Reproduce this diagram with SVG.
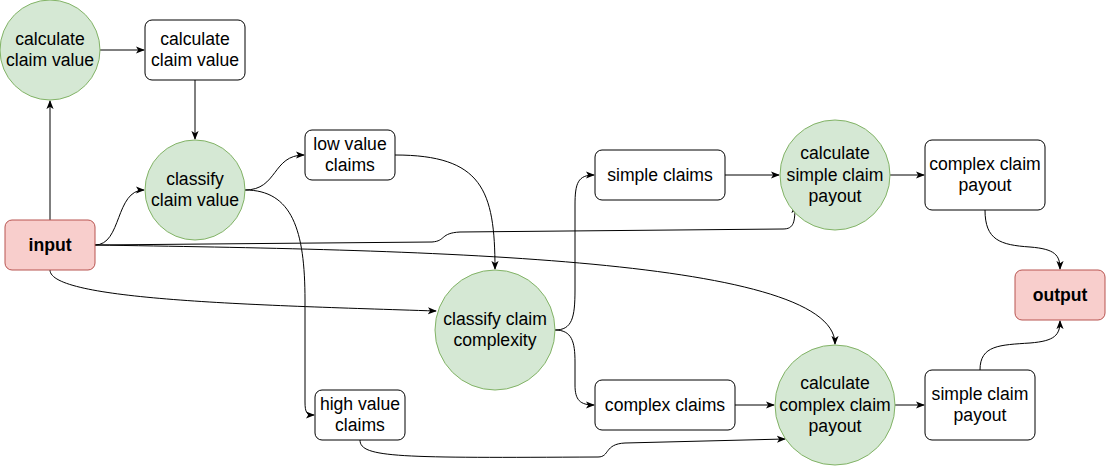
<svg xmlns="http://www.w3.org/2000/svg" width="1106" height="466" viewBox="0 0 1106 466">
<style>
.g{fill:#d5e8d4;stroke:#82b366;stroke-width:1}
.r{fill:#f8cecc;stroke:#b85450;stroke-width:1}
.w{fill:#ffffff;stroke:#000000;stroke-width:1}
text{font-family:"Liberation Sans",Arial,Helvetica,sans-serif;font-size:17.6px;fill:#000;text-anchor:middle}
.b{font-weight:bold}
.e{fill:none;stroke:#000;stroke-width:1;marker-end:url(#a)}
</style>
<defs>
<marker id="a" viewBox="0 0 10 10" refX="9" refY="5" markerWidth="9" markerHeight="9" markerUnits="userSpaceOnUse" orient="auto">
<path d="M0,1 L10,5 L0,9 L2.5,5 z" fill="#000"/>
</marker>
</defs>
<rect width="1106" height="466" fill="#fff"/>
<g id="connectors">
<path class="e" d="M50,220 L50,101"/>
<path class="e" d="M100,50 L144,50"/>
<path class="e" d="M195,80 L195,139"/>
<path class="e" d="M95,245 C122,245 115,190 144,190"/>
<path class="e" d="M245,190 C278,190 272,155 304,155"/>
<path class="e" d="M245,190 C292,190 305,230 305,300 L305,402 C305,413 307,415 314,415"/>
<path class="e" d="M95,245 L432,242 C446,241 440,233 460,232 L783,229 C794,229 795,222 795,205"/>
<path class="e" d="M95,245 C400,250 835,255 835,344"/>
<path class="e" d="M50,270 C50,300 250,305 436,311"/>
<path class="e" d="M395,155 C482,155 495,190 495,269"/>
<path class="e" d="M360,440 C360,458 400,458 598,457 C610,457 604,444 625,443 L785,439"/>
<path class="e" d="M555,330 C572,330 575,318 575,290 L575,205 C575,183 578,175 594,175"/>
<path class="e" d="M555,330 C572,330 575,342 575,362 L575,385 C575,400 580,405 594,405"/>
<path class="e" d="M725,175 L779,175"/>
<path class="e" d="M890,175 L924,175"/>
<path class="e" d="M735,405 L774,405"/>
<path class="e" d="M895,405 L924,405"/>
<path class="e" d="M985,210 C985,240 1000,245 1030,247 C1055,249 1060,255 1060,269"/>
<path class="e" d="M980,370 C980,345 1000,345 1030,343 C1055,341 1060,335 1060,321"/>
</g>
<g id="calc-claim-value-process">
<circle class="g" cx="50" cy="50" r="50"/>
<text x="50" y="44.5">calculate</text><text x="50" y="66">claim value</text>
</g>
<g id="calc-claim-value-data">
<rect class="w" x="145" y="20" width="100" height="60" rx="7"/>
<text x="195" y="44.5">calculate</text><text x="195" y="66">claim value</text>
</g>
<g id="classify-claim-value">
<circle class="g" cx="195" cy="190" r="50"/>
<text x="195" y="184.5">classify</text><text x="195" y="206">claim value</text>
</g>
<g id="input">
<rect class="r" x="5" y="220" width="90" height="50" rx="7"/>
<text class="b" x="50" y="251">input</text>
</g>
<g id="low-value-claims">
<rect class="w" x="305" y="130" width="90" height="50" rx="7"/>
<text x="350" y="149.5">low value</text><text x="350" y="171">claims</text>
</g>
<g id="high-value-claims">
<rect class="w" x="315" y="390" width="90" height="50" rx="7"/>
<text x="360" y="409.5">high value</text><text x="360" y="431">claims</text>
</g>
<g id="classify-claim-complexity">
<circle class="g" cx="495" cy="330" r="60"/>
<text x="495" y="324.5">classify claim</text><text x="495" y="346">complexity</text>
</g>
<g id="simple-claims">
<rect class="w" x="595" y="150" width="130" height="50" rx="7"/>
<text x="660" y="181">simple claims</text>
</g>
<g id="complex-claims">
<rect class="w" x="595" y="380" width="140" height="50" rx="7"/>
<text x="665" y="411">complex claims</text>
</g>
<g id="calc-simple-claim-payout">
<circle class="g" cx="835" cy="175" r="55"/>
<text x="835" y="159">calculate</text><text x="835" y="180.5">simple claim</text><text x="835" y="202">payout</text>
</g>
<g id="calc-complex-claim-payout">
<circle class="g" cx="835" cy="405" r="60"/>
<text x="835" y="389">calculate</text><text x="835" y="410.5">complex claim</text><text x="835" y="432">payout</text>
</g>
<g id="complex-claim-payout">
<rect class="w" x="925" y="140" width="120" height="70" rx="7"/>
<text x="985" y="169.5">complex claim</text><text x="985" y="191">payout</text>
</g>
<g id="simple-claim-payout">
<rect class="w" x="925" y="370" width="110" height="70" rx="7"/>
<text x="980" y="399.5">simple claim</text><text x="980" y="421">payout</text>
</g>
<g id="output">
<rect class="r" x="1015" y="270" width="90" height="50" rx="7"/>
<text class="b" x="1060" y="301">output</text>
</g>
</svg>
